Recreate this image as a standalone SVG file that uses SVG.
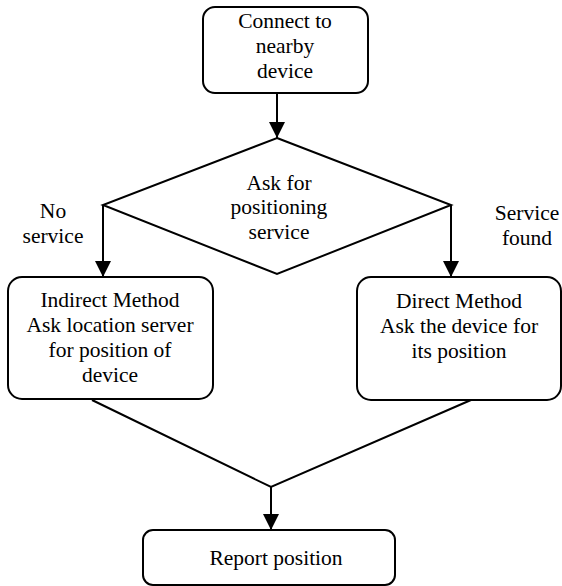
<svg xmlns="http://www.w3.org/2000/svg" width="562" height="586" viewBox="0 0 562 586">
<style>
.node{fill:#fff;stroke:#000;stroke-width:2}
text{font-family:'Liberation Serif','Times New Roman',serif;font-size:21.5px;fill:#000;text-anchor:middle}
.c{fill:none;stroke:#000;stroke-width:2}
</style>
<defs>
<marker id="ah" viewBox="0 0 16 16" refX="16" refY="8" markerWidth="16" markerHeight="16" orient="auto" markerUnits="userSpaceOnUse">
<path d="M0,0 L16,8 L0,16 z" fill="#000"/>
</marker>
</defs>
<rect width="562" height="586" fill="#fff"/>
<g id="connectors">
<line class="c" x1="277" y1="93" x2="277" y2="138" marker-end="url(#ah)"/>
<line class="c" x1="103" y1="205" x2="103" y2="277" marker-end="url(#ah)"/>
<line class="c" x1="451" y1="205" x2="451" y2="277" marker-end="url(#ah)"/>
<polyline class="c" points="92,400 271,487 471,400"/>
<line class="c" x1="271" y1="487" x2="271" y2="530" marker-end="url(#ah)"/>
<text x="53" y="218">No</text>
<text x="53" y="243">service</text>
<text x="527" y="220">Service</text>
<text x="527" y="245">found</text>
</g>
<g id="connect">
<rect class="node" x="203" y="7" width="165" height="86" rx="12"/>
<text x="285" y="28">Connect to</text>
<text x="285" y="53">nearby</text>
<text x="285" y="78">device</text>
</g>
<g id="ask">
<polygon class="node" points="277,138 451,205 277,274 103,205"/>
<text x="279" y="190">Ask for</text>
<text x="279" y="214">positioning</text>
<text x="279" y="239">service</text>
</g>
<g id="indirect">
<rect class="node" x="8" y="277" width="205" height="122" rx="14"/>
<text x="110" y="307">Indirect Method</text>
<text x="110" y="332">Ask location server</text>
<text x="110" y="357">for position of</text>
<text x="110" y="382">device</text>
</g>
<g id="direct">
<rect class="node" x="357" y="277" width="204" height="123" rx="14"/>
<text x="459" y="308">Direct Method</text>
<text x="459" y="333">Ask the device for</text>
<text x="459" y="358">its position</text>
</g>
<g id="report">
<rect class="node" x="143" y="530" width="252" height="55" rx="10"/>
<text x="276" y="565">Report position</text>
</g>
</svg>
